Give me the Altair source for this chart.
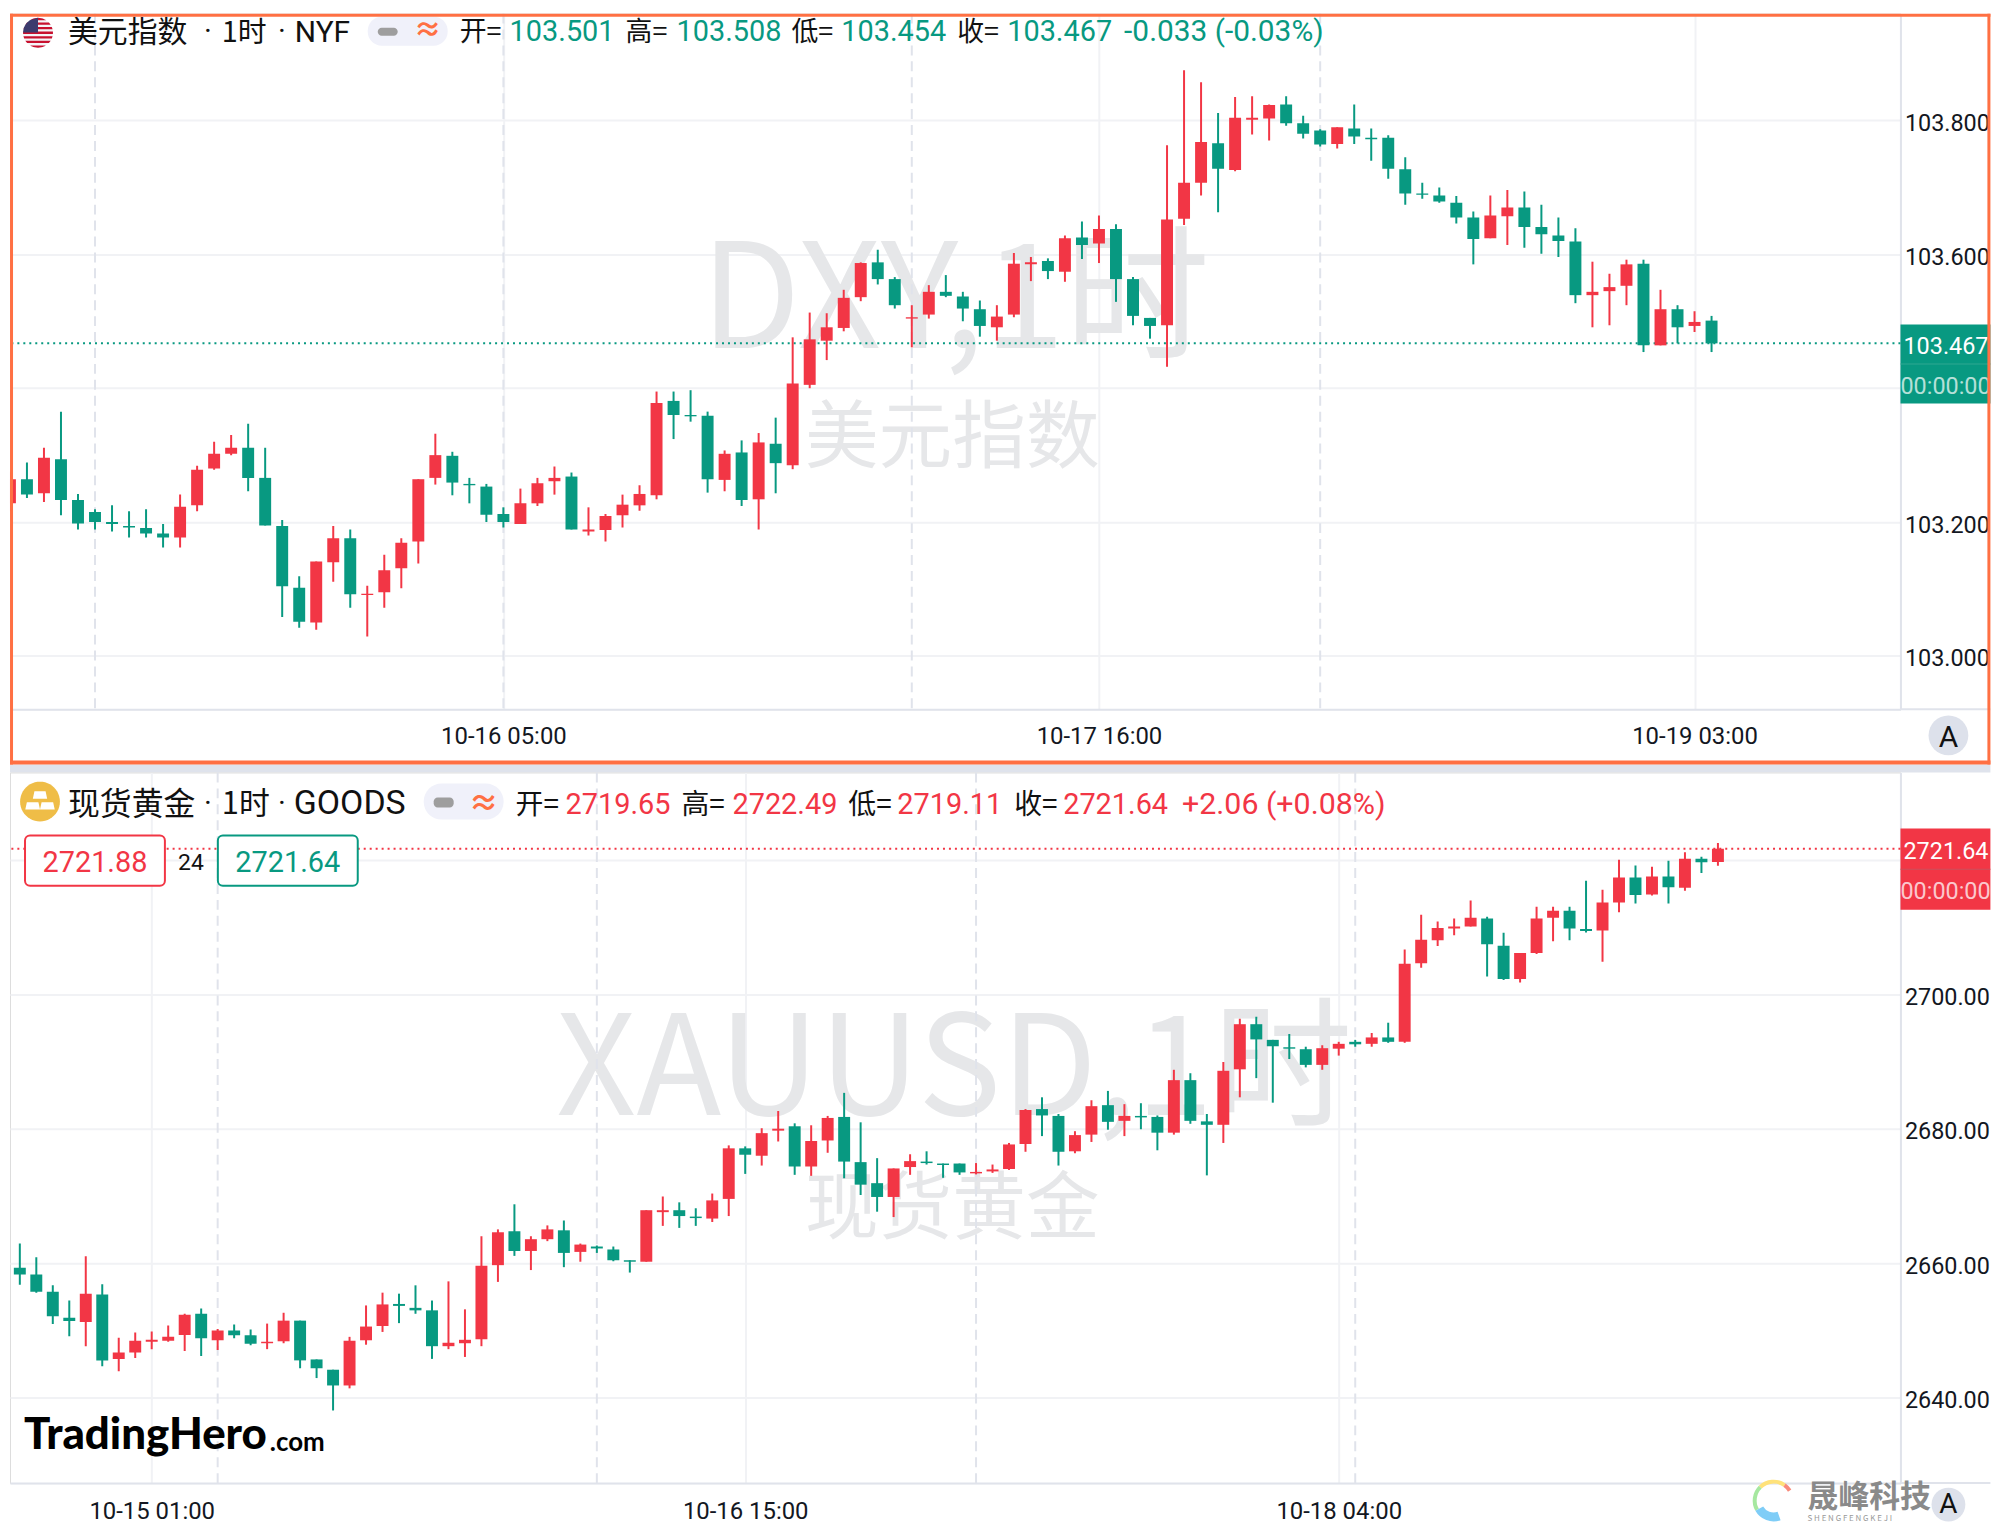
import math
import altair as alt
import pandas as pd

RED = "#f23645"
GREEN = "#089981"
GRID = "#f1f2f5"
LINE = "#e0e3eb"
INK = "#131722"
ORANGE = "#ff7043"
MARK = "#e6e7e9"
CJK = "Noto Sans CJK SC"
LAT = "Roboto"

dxy_open = [103.228,103.264,103.243,103.294,103.233,103.215,103.200,103.194,103.191,103.183,103.177,103.225,103.280,103.302,103.311,103.266,103.194,103.102,103.050,103.140,103.176,103.091,103.095,103.131,103.171,103.266,103.299,103.257,103.253,103.212,103.197,103.228,103.261,103.268,103.186,103.188,103.210,103.225,103.240,103.381,103.360,103.359,103.263,103.304,103.234,103.317,103.285,103.405,103.471,103.490,103.536,103.588,103.563,103.504,103.510,103.544,103.537,103.518,103.491,103.510,103.585,103.590,103.574,103.625,103.616,103.638,103.563,103.505,103.494,103.653,103.707,103.766,103.726,103.801,103.803,103.824,103.796,103.785,103.765,103.788,103.774,103.774,103.727,103.691,103.688,103.677,103.655,103.624,103.657,103.670,103.641,103.628,103.619,103.539,103.545,103.553,103.586,103.464,103.518,103.493,103.501]
dxy_close = [103.264,103.241,103.296,103.233,103.198,103.200,103.197,103.192,103.183,103.177,103.223,103.278,103.302,103.311,103.266,103.195,103.104,103.051,103.141,103.176,103.092,103.093,103.128,103.169,103.264,103.300,103.259,103.255,103.211,103.200,103.228,103.258,103.266,103.189,103.189,103.209,103.226,103.242,103.378,103.360,103.358,103.264,103.302,103.233,103.319,103.288,103.407,103.473,103.491,103.535,103.587,103.563,103.524,103.506,103.544,103.538,103.519,103.493,103.507,103.586,103.588,103.575,103.624,103.614,103.638,103.563,103.508,103.493,103.652,103.707,103.768,103.728,103.804,103.804,103.823,103.796,103.780,103.764,103.790,103.776,103.772,103.728,103.691,103.689,103.679,103.655,103.623,103.658,103.670,103.641,103.630,103.620,103.539,103.544,103.551,103.585,103.464,103.518,103.491,103.499,103.467]
dxy_high = [103.275,103.289,103.311,103.365,103.242,103.219,103.225,103.216,103.219,103.197,103.241,103.284,103.320,103.330,103.347,103.311,103.203,103.119,103.141,103.194,103.189,103.105,103.151,103.176,103.264,103.332,103.305,103.266,103.257,103.222,103.250,103.266,103.283,103.274,103.222,103.212,103.241,103.255,103.395,103.395,103.397,103.365,103.307,103.322,103.333,103.356,103.476,103.513,103.512,103.547,103.588,103.607,103.566,103.524,103.554,103.569,103.544,103.531,103.524,103.602,103.596,103.594,103.628,103.649,103.658,103.645,103.566,103.505,103.763,103.875,103.857,103.811,103.835,103.836,103.824,103.836,103.807,103.787,103.790,103.824,103.788,103.778,103.745,103.707,103.700,103.687,103.664,103.688,103.696,103.694,103.674,103.655,103.639,103.589,103.571,103.592,103.592,103.547,103.524,103.515,103.508]
dxy_low = [103.216,103.236,103.230,103.210,103.189,103.189,103.186,103.177,103.177,103.162,103.162,103.216,103.278,103.300,103.246,103.195,103.058,103.042,103.039,103.111,103.072,103.029,103.072,103.101,103.138,103.256,103.240,103.228,103.200,103.192,103.197,103.224,103.241,103.189,103.180,103.171,103.192,103.217,103.234,103.324,103.350,103.244,103.246,103.224,103.189,103.243,103.279,103.400,103.442,103.485,103.530,103.555,103.519,103.461,103.504,103.536,103.500,103.477,103.471,103.506,103.560,103.563,103.559,103.593,103.587,103.529,103.494,103.474,103.432,103.644,103.688,103.663,103.724,103.779,103.770,103.792,103.773,103.761,103.758,103.765,103.740,103.713,103.674,103.683,103.677,103.646,103.585,103.624,103.614,103.610,103.601,103.596,103.527,103.491,103.494,103.524,103.454,103.464,103.467,103.484,103.454]

gold_open = [2660.44,2659.34,2658.32,2655.76,2651.90,2651.24,2655.33,2645.77,2646.71,2648.32,2648.47,2649.34,2652.48,2648.54,2650.00,2649.27,2648.10,2648.39,2651.46,2645.69,2644.16,2641.82,2648.54,2650.66,2653.94,2653.36,2652.99,2647.66,2648.10,2648.68,2659.71,2664.74,2661.82,2663.57,2664.89,2661.68,2662.48,2662.04,2660.44,2660.22,2667.59,2667.88,2666.93,2666.64,2669.56,2677.08,2675.98,2679.71,2680.36,2674.38,2678.25,2681.75,2675.03,2671.90,2669.85,2674.30,2675.11,2674.82,2674.82,2673.36,2673.65,2674.01,2677.73,2682.92,2681.90,2676.64,2679.12,2683.50,2681.17,2681.90,2681.75,2679.41,2687.22,2681.09,2680.58,2688.83,2695.54,2693.21,2692.11,2691.82,2689.49,2691.90,2692.92,2692.62,2693.57,2692.92,2704.60,2708.03,2709.78,2710.07,2711.24,2707.22,2702.26,2706.13,2711.38,2712.40,2709.70,2709.49,2713.65,2717.37,2714.81,2717.51,2715.84,2720.14,2719.65]
gold_close = [2659.41,2658.32,2655.76,2652.12,2651.39,2655.47,2645.55,2646.71,2648.47,2648.61,2649.05,2652.33,2648.83,2650.00,2649.27,2648.03,2648.32,2651.46,2645.55,2644.38,2641.82,2648.47,2650.58,2653.87,2653.65,2652.99,2647.66,2648.17,2648.61,2659.63,2664.60,2661.82,2663.57,2665.03,2661.53,2662.77,2662.19,2660.44,2660.22,2667.88,2667.88,2667.01,2666.71,2669.34,2677.08,2676.13,2679.34,2680.00,2674.38,2678.17,2681.60,2675.11,2671.68,2669.85,2674.09,2675.18,2674.89,2674.60,2673.50,2673.57,2673.94,2677.66,2682.77,2681.97,2676.57,2679.05,2683.35,2681.02,2681.90,2681.68,2679.41,2687.22,2681.17,2680.58,2688.61,2695.54,2693.28,2692.26,2691.90,2689.49,2691.97,2692.62,2692.55,2693.57,2692.92,2704.52,2708.10,2709.85,2710.07,2711.38,2707.44,2702.26,2706.13,2711.24,2712.40,2709.78,2709.41,2713.65,2717.37,2714.74,2717.51,2715.91,2720.14,2719.63,2721.64]
gold_high = [2660.44,2662.92,2660.87,2656.71,2654.45,2661.02,2656.86,2648.90,2649.71,2649.85,2650.73,2652.48,2653.28,2650.22,2650.87,2650.14,2651.02,2652.63,2651.46,2645.69,2644.16,2649.05,2653.72,2655.62,2655.47,2656.71,2654.45,2657.30,2653.14,2664.01,2665.03,2668.76,2664.01,2665.62,2666.35,2662.92,2662.63,2662.48,2660.44,2667.88,2669.92,2669.05,2668.17,2670.36,2677.52,2677.37,2680.07,2682.63,2680.80,2680.51,2681.90,2685.33,2680.95,2675.62,2674.09,2676.20,2676.64,2674.82,2674.82,2674.89,2674.67,2677.88,2682.92,2684.67,2682.19,2679.63,2684.23,2685.62,2683.65,2683.79,2681.97,2688.76,2688.25,2682.19,2689.92,2696.35,2696.64,2693.21,2694.08,2692.19,2692.41,2692.92,2693.21,2694.23,2695.76,2706.64,2711.82,2710.80,2711.24,2713.94,2711.53,2709.12,2706.13,2712.99,2712.99,2712.99,2716.86,2715.54,2720.00,2719.12,2718.97,2719.85,2721.09,2720.43,2722.49]
gold_low = [2659.41,2656.79,2655.62,2650.95,2649.12,2647.66,2644.67,2643.94,2645.91,2647.22,2648.32,2646.93,2646.20,2647.08,2648.83,2647.81,2647.22,2648.10,2644.38,2642.92,2638.10,2641.39,2647.88,2649.78,2651.09,2652.48,2645.77,2647.22,2646.06,2647.66,2657.22,2661.09,2658.98,2663.28,2659.41,2660.22,2661.53,2660.29,2658.61,2660.22,2665.55,2665.25,2665.55,2666.13,2667.01,2673.28,2674.52,2678.10,2673.14,2672.99,2676.42,2672.63,2670.14,2667.66,2666.86,2673.14,2674.67,2672.70,2673.14,2673.21,2673.43,2673.87,2676.57,2678.90,2674.52,2676.35,2678.03,2679.85,2678.90,2679.92,2676.79,2679.12,2680.73,2673.06,2677.88,2684.67,2687.52,2683.87,2690.36,2689.12,2688.76,2690.87,2692.19,2692.19,2692.77,2692.77,2703.94,2707.15,2708.76,2710.07,2702.62,2702.11,2701.75,2705.98,2707.88,2708.03,2709.19,2704.81,2712.19,2713.50,2714.67,2713.50,2715.40,2718.03,2719.11]

dxy_ticks = [29, 64, 99]
dxy_tick_labels = ["10-16 05:00", "10-17 16:00", "10-19 03:00"]
dxy_days = [5, 29, 53, 77]
dxy_levels = [103.0, 103.2, 103.4, 103.6, 103.8]
gold_ticks = [9, 45, 81]
gold_tick_labels = ["10-15 01:00", "10-16 15:00", "10-18 04:00"]
gold_days = [13, 36, 59, 82]
gold_levels = [2640, 2660, 2680, 2700, 2720]

def PX(p):
    return min(1990.0, max(0.0, p / 0.9961 - 10.0))

def PY(p):
    return max(0.0, p / 0.993 - 14.95)

one = pd.DataFrame({"a": [0]})
def frame(o, h, l, c):
    return pd.DataFrame({"i": range(len(o)), "open": o, "high": h, "low": l, "close": c})

def txt(s, x, y, size, color, top, align="left", font=CJK, **kw):
    return alt.Chart(one).mark_text(text=s, fontSize=size, color=color, align=align, baseline="middle", font=font, **kw).encode(
        x=alt.value(PX(x)), y=alt.value(PY(y + 2.5) - top))

def box(x1, x2, y1, y2, top, fill, **kw):
    return alt.Chart(one).mark_rect(fill=fill, **kw).encode(
        x=alt.value(PX(x1)), x2=alt.value(PX(x2)), y=alt.value(PY(y1) - top), y2=alt.value(PY(y2) - top))

def icon(path, cx, cy, r, color, top):
    return alt.Chart(one).mark_point(shape=path, size=(2 * r) ** 2, fill=color, filled=True, strokeWidth=0, opacity=1).encode(
        x=alt.value(PX(cx)), y=alt.value(PY(cy) - top))

def dot(cx, cy, r, color, top):
    return alt.Chart(one).mark_circle(size=(2 * r) ** 2, color=color, opacity=1).encode(x=alt.value(PX(cx)), y=alt.value(PY(cy) - top))

def arc(cx, cy, r1, r2, t1, t2, color, top):
    return alt.Chart(one).mark_arc(radius=r1, radius2=r2, theta=t1, theta2=t2, color=color).encode(x=alt.value(PX(cx)), y=alt.value(PY(cy) - top))

def chord_path(y0, y1, xmax=None):
    n = 6
    ys = [y0 + (y1 - y0) * k / n for k in range(n + 1)]
    right = [math.sqrt(max(0, 1 - v * v)) for v in ys]
    left = [-a for a in right]
    if xmax is not None:
        right = [min(a, xmax) for a in right]
    seq = [(right[k], ys[k]) for k in range(n + 1)] + [(left[k], ys[k]) for k in range(n, -1, -1)]
    return "M" + " L".join(f"{a:.3f},{b:.3f}" for a, b in seq) + " Z"

CIRCLE = "M" + " L".join(f"{math.cos(k * math.pi / 24):.3f},{math.sin(k * math.pi / 24):.3f}" for k in range(48)) + " Z"
stripes = " ".join(chord_path(-1 + 2 * k / 13, -1 + 2 * (k + 1) / 13) for k in range(0, 13, 2))
canton = chord_path(-1, -0.02, 0.0)
bars = ("M-0.28,-0.52 L0.28,-0.52 L0.36,-0.14 L-0.36,-0.14 Z "
        "M-0.66,0.04 L-0.08,0.04 L0.0,0.40 L-0.74,0.40 Z "
        "M0.08,0.04 L0.66,0.04 L0.74,0.40 L0.0,0.40 Z")

def panel(df, height, xdom, ydom, ticks, labels, days, levels, hidden, fmt, last, up, pad, marks, extra_over):
    xs = alt.Scale(domain=xdom, nice=False, zero=False, padding=0)
    ys = alt.Scale(domain=ydom, nice=False, zero=False, padding=0)
    lab = "".join(f"datum.value=={t}?'{s}':" for t, s in zip(ticks, labels)) + "''"
    ylab = f"datum.value=={hidden}?'':format(datum.value,'{fmt}')"
    x_ax = alt.Axis(values=ticks, labelExpr=lab, grid=True, gridColor=GRID, gridWidth=2, ticks=False, domainColor=LINE, domainWidth=2,
                    labelFont=LAT, labelFontSize=24, labelColor=INK, labelPadding=pad, labelOverlap=False, title=None, labelFlush=False)
    y_ax = alt.Axis(values=levels, labelExpr=ylab, orient="right", grid=True, gridColor=GRID, gridWidth=2, ticks=False, domainColor=LINE, domainWidth=2,
                    labelFont=LAT, labelFontSize=23.5, labelColor=INK, labelPadding=4, labelOffset=3, labelOverlap=False, title=None)
    color = alt.condition("datum.close >= datum.open", alt.value(RED), alt.value(GREEN))
    base = alt.Chart(df)
    pcol = RED if up else GREEN
    dash = alt.Chart(pd.DataFrame({"d": days})).mark_rule(color=LINE, strokeWidth=2, strokeDash=[10, 6]).encode(
        x=alt.X("d:Q", scale=xs, axis=x_ax))
    price = alt.Chart(pd.DataFrame({"p": [last]})).mark_rule(color=pcol, strokeWidth=2, strokeDash=[2, 4]).encode(
        y=alt.Y("p:Q", scale=ys, axis=y_ax))
    wick = base.mark_rule(strokeWidth=2, clip=True).encode(
        x=alt.X("i:Q", scale=xs, axis=x_ax), y=alt.Y("low:Q", scale=ys, axis=y_ax), y2="high:Q", color=color)
    body = base.mark_bar(width=12, clip=True).encode(
        x=alt.X("i:Q", scale=xs, axis=x_ax), y=alt.Y("open:Q", scale=ys, axis=y_ax), y2="close:Q", color=color)
    return alt.layer(*marks, dash, price, wick, body, *extra_over).properties(width=1899.4, height=height)

# ---------- top panel ----------
T1 = 0.0
top_marks = [
    txt("DXY,1时", 956, 302, 146, MARK, T1, align="center"),
    txt("美元指数", 953, 438, 74, MARK, T1, align="center"),
]
top_extra = [
    box(1902, 1992, 325, 404, T1, GREEN),
    box(1902, 1992, 364, 365, T1, "#2ea892"),
    txt("103.467", 1905, 345, 23.5, "white", T1, font=LAT),
    txt("00:00:00", 1902, 385, 23.5, "#b5e0d8", T1, font=LAT),
    icon(CIRCLE, 38, 34, 15, "#f4f4f8", T1),
    icon(stripes, 38, 34, 15, "#c8102e", T1),
    icon(canton, 38, 34, 15, "#3c3b6e", T1),
    txt("美元指数", 68, 32, 30, "#111111", T1),
    txt("·", 208, 31, 30, "#111111", T1, align="center", font=LAT),
    txt("1时", 222, 32, 29, "#111111", T1),
    txt("·", 282, 31, 30, "#111111", T1, align="center", font=LAT),
    txt("NYF", 295, 32, 30, "#111111", T1, font=LAT),
    box(368, 448, 18, 47, T1, "#f0f1fa", cornerRadius=14),
    box(378, 398, 29, 37, T1, "#9e9e9e", cornerRadius=4),
    txt("≈", 428, 31, 28, ORANGE, T1, align="center", fontWeight="bold"),
    txt("开=", 460, 32, 27, "#111111", T1),
    txt("103.501", 510, 31, 29, GREEN, T1, font=LAT),
    txt("高=", 626, 32, 27, "#111111", T1),
    txt("103.508", 677, 31, 29, GREEN, T1, font=LAT),
    txt("低=", 792, 32, 27, "#111111", T1),
    txt("103.454", 842, 31, 29, GREEN, T1, font=LAT),
    txt("收=", 958, 32, 27, "#111111", T1),
    txt("103.467", 1008, 31, 29, GREEN, T1, font=LAT),
    txt("-0.033 (-0.03%)", 1125, 31, 30, GREEN, T1, font=LAT),
    box(1902, 1992, 708, 710, T1, LINE),
    dot(1950, 735, 20, "#dde1eb", T1),
    txt("A", 1950, 735, 30, "#111111", T1, align="center", font=LAT),
    box(8, 1992, 764, 772, T1, "#dfe3ec"),
    box(10, 13, 15, 764, T1, ORANGE),
    box(1989, 1992, 15, 764, T1, ORANGE),
    box(10, 1992, 15, 18, T1, ORANGE),
    box(10, 1992, 760, 764, T1, ORANGE),
]
top_chart = panel(frame(dxy_open, dxy_high, dxy_low, dxy_close), 699, [0.0035, 111.1], [102.9203, 103.9597],
                  dxy_ticks, dxy_tick_labels, dxy_days, dxy_levels, 103.4, ".3f", 103.467, False, 15, top_marks, top_extra)

# ---------- bottom panel ----------
T2 = 762.5
bot_marks = [
    txt("XAUUSD,1时", 955, 1070, 140, MARK, T2, align="center"),
    txt("现货黄金", 953, 1207, 74, MARK, T2, align="center"),
]
bot_extra = [
    box(1902, 1992, 828, 909, T2, RED),
    box(1902, 1992, 868, 869, T2, "#c9505c"),
    txt("2721.64", 1905, 849, 23.5, "white", T2, font=LAT),
    txt("00:00:00", 1902, 889, 23.5, "#fbc8cd", T2, font=LAT),
    icon(CIRCLE, 40, 801, 20, "#efbd47", T2),
    icon(bars, 40, 801, 20, "white", T2),
    txt("现货黄金", 68, 802, 32, "#111111", T2),
    txt("·", 208, 801, 30, "#111111", T2, align="center", font=LAT),
    txt("1时", 222, 802, 31, "#111111", T2),
    txt("·", 282, 801, 30, "#111111", T2, align="center", font=LAT),
    txt("GOODS", 294, 801, 34, "#111111", T2, font=LAT),
    box(424, 504, 783, 819, T2, "#f0f1fa", cornerRadius=18),
    box(434, 454, 797, 807, T2, "#9e9e9e", cornerRadius=4),
    txt("≈", 484, 801, 30, ORANGE, T2, align="center", fontWeight="bold"),
    txt("开=", 516, 803, 28, "#111111", T2),
    txt("2719.65", 566, 802, 29, RED, T2, font=LAT),
    txt("高=", 682, 803, 28, "#111111", T2),
    txt("2722.49", 733, 802, 29, RED, T2, font=LAT),
    txt("低=", 849, 803, 28, "#111111", T2),
    txt("2719.11", 898, 802, 29, RED, T2, font=LAT),
    txt("收=", 1015, 803, 28, "#111111", T2),
    txt("2721.64", 1064, 802, 29, RED, T2, font=LAT),
    txt("+2.06 (+0.08%)", 1183, 802, 30.5, RED, T2, font=LAT),
    alt.Chart(one).mark_rect(fill="white", stroke=RED, strokeWidth=2, cornerRadius=5).encode(
        x=alt.value(PX(25)), x2=alt.value(PX(165)), y=alt.value(PY(835) - T2), y2=alt.value(PY(885) - T2)),
    txt("2721.88", 95, 860, 29, RED, T2, align="center", font=LAT),
    txt("24", 191, 860, 23, "#111111", T2, align="center", font=LAT),
    alt.Chart(one).mark_rect(fill="white", stroke=GREEN, strokeWidth=2, cornerRadius=5).encode(
        x=alt.value(PX(218)), x2=alt.value(PX(358)), y=alt.value(PY(835) - T2), y2=alt.value(PY(885) - T2)),
    txt("2721.64", 288, 860, 29, GREEN, T2, align="center", font=LAT),
    txt("TradingHero", 24, 1431.5, 44, "black", T2, font="Lato", fontWeight=900),
    txt(".com", 270, 1438.5, 26, "black", T2, font="Lato", fontWeight="bold"),
    box(1902, 1992, 1480, 1482, T2, LINE),
    dot(1950, 1502.4, 17, "#dde1eb", T2),
    arc(1775, 1498.4, 21, 17, 5.5, 6.9, "#ffe27a", T2),
    arc(1775, 1498.4, 21, 17, 4.2, 5.5, "#a6e8a0", T2),
    arc(1775, 1498.4, 21, 12, 2.8, 4.2, "#7fcdf7", T2),
    arc(1775, 1498.4, 21, 17, 6.9, 7.3, "#f98a7a", T2),
    txt("晟峰科技", 1809, 1493, 31, "#8a8a8a", T2, fontWeight="bold"),
    txt("S H E N G F E N G K E J I", 1809, 1514, 8, "#999999", T2),
    txt("A", 1950, 1500, 28, "#111111", T2, align="center", font=LAT),
]
bot_chart = panel(frame(gold_open, gold_high, gold_low, gold_close), 714, [0.4037, 115.07], [2627.3, 2732.97],
                  gold_ticks, gold_tick_labels, gold_days, gold_levels, 2720, ".2f", 2721.64, True, 17, bot_marks, bot_extra)

chart = (alt.vconcat(top_chart, bot_chart, spacing=63.5, bounds="flush")
         .properties(padding={"left": 0, "top": 0, "right": 0, "bottom": 0})
         .configure_view(strokeWidth=0, stroke="transparent")
         .configure(background="white"))
chart.save("out.html", embed_options={"renderer": "svg", "actions": False})
